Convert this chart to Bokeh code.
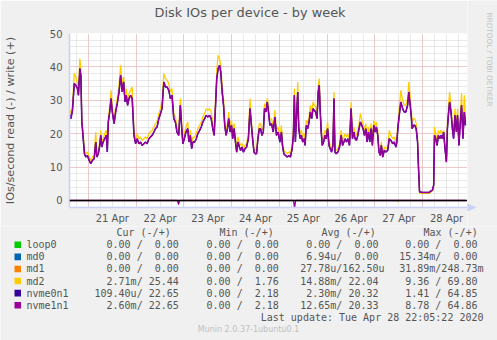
import math
from bokeh.plotting import figure
from bokeh.layouts import column, row
from bokeh.models import Range1d, FixedTicker, Span, Title
from bokeh.core.properties import value
from bokeh.embed import file_html
from bokeh.resources import INLINE

# ---------------- data (hours since 2020-04-20 00:00) ----------------
hours = [14.4, 15.2, 16.0, 16.9, 17.7, 18.5, 19.0, 19.7, 20.2, 20.7, 21.4, 22.0, 22.7, 23.5,
         24.4, 25.2, 26.0, 26.9, 27.7, 28.2, 29.0, 29.7, 30.2, 30.7, 31.4, 32.2, 33.0, 33.5,
         34.0, 34.7, 35.4, 36.0, 36.9, 37.7, 38.5, 39.4, 40.2, 41.0, 41.7, 42.4, 43.0, 43.7,
         44.4, 45.2, 46.0, 46.9, 47.7, 48.5, 49.4, 50.2, 51.0, 51.9, 52.7, 53.5, 54.4, 55.2,
         56.0, 56.9, 57.7, 58.5, 59.4, 60.2, 61.0, 61.9, 62.7, 63.5, 64.4, 65.2, 66.0, 66.9,
         67.7, 68.5, 69.4, 70.2, 71.0, 71.5, 72.2, 73.0, 73.9, 74.5, 75.2, 75.9, 76.5, 77.4,
         78.2, 79.0, 79.9, 80.7, 81.5, 82.4, 83.2, 84.0, 84.9, 85.7, 86.5, 87.2, 87.9, 88.5,
         89.2, 89.9, 90.5, 91.2, 91.9, 92.5, 93.2, 93.9, 94.5, 95.2, 95.9, 96.5, 97.2, 97.9,
         98.5, 99.2, 99.9, 100.5, 101.2, 101.9, 102.7, 103.5, 104.4, 105.2, 105.9, 106.5,
         107.2, 107.9, 108.5, 109.2, 109.9, 110.5, 111.2, 111.9, 112.5, 113.2, 113.9, 114.5,
         115.2, 116.0, 116.9, 117.7, 118.5, 119.4, 120.2, 121.0, 121.5, 122.2, 123.0, 123.9,
         124.7, 125.5, 126.4, 127.0, 127.5, 128.0, 128.7, 129.2, 129.7, 130.4, 131.0, 131.7,
         132.4, 132.9, 133.5, 134.2, 134.9, 135.5, 136.2, 136.9, 137.5, 138.2, 138.9, 139.5,
         140.0, 140.5, 141.0, 141.5, 142.2, 142.9, 143.5, 144.2, 144.9, 145.5, 146.2, 146.9,
         147.4, 147.9, 148.5, 149.4, 150.2, 151.0, 151.7, 152.4, 153.0, 153.7, 154.4, 155.2,
         156.0, 156.7, 157.4, 158.0, 158.7, 159.4, 160.0, 160.7, 161.4, 162.0, 162.7, 163.4,
         164.0, 164.7, 165.4, 166.0, 166.7, 167.4, 168.0, 168.7, 169.4, 170.0, 170.7, 171.2,
         171.9, 172.7, 173.5, 174.4, 175.2, 176.0, 176.9, 177.7, 178.5, 179.0, 179.5, 180.2,
         181.0, 181.9, 182.7, 183.5, 184.4, 185.0, 185.7, 186.2, 186.7, 187.4, 188.0, 188.7,
         189.4, 189.9, 190.4, 191.9, 193.5, 195.2, 196.0, 196.9, 197.5, 197.9, 198.5, 199.2,
         199.9, 200.5, 201.2, 201.9, 202.5, 203.2, 203.9, 204.4, 204.9, 205.5, 206.2, 206.9,
         207.5, 208.2, 208.9, 209.5, 210.2, 210.9, 211.5, 212.2, 212.9, 213.5]

nvme1n1_write = [26.0, 24.5, 27.0, 35.0, 34.5, 33.5, 31.5, 39.5, 37.5, 23.5, 18.5, 14.0, 13.0, 13.5,
                 12.0, 11.0, 12.0, 12.5, 17.5, 13.0, 14.0, 16.5, 19.5, 16.0, 17.5, 18.5, 19.5, 14.5,
                 23.5, 26.5, 30.5, 26.5, 23.0, 26.5, 29.0, 32.5, 37.5, 32.5, 35.5, 29.5, 31.5, 28.5,
                 30.5, 31.5, 30.5, 19.5, 17.0, 18.5, 17.0, 17.5, 16.5, 17.0, 17.5, 17.0, 18.5, 19.0,
                 19.5, 20.5, 21.5, 22.0, 24.5, 26.0, 27.5, 35.5, 34.0, 34.0, 33.0, 30.5, 31.5, 24.5,
                 23.5, 20.5, 19.5, 28.5, 20.5, 17.0, 18.5, 20.5, 21.5, 17.5, 19.5, 15.5, 17.5, 17.5,
                 18.5, 20.0, 21.0, 22.0, 23.5, 24.5, 25.5, 25.0, 25.5, 24.5, 21.5, 19.5, 28.5, 36.5,
                 39.5, 40.5, 38.5, 32.5, 28.5, 22.5, 19.5, 21.5, 24.5, 20.5, 22.5, 18.5, 21.5, 17.5,
                 14.5, 17.5, 16.0, 15.0, 16.0, 14.5, 15.5, 16.0, 18.5, 27.5, 22.5, 18.5,
                 14.5, 14.0, 14.0, 18.5, 21.5, 21.5, 19.5, 20.5, 27.5, 26.5, 29.5, 26.5,
                 22.5, 23.0, 20.5, 25.0, 19.5, 20.5, 17.5, 20.5, 16.5, 14.0, 13.5, 13.0,
                 13.5, 13.0, 15.5, 19.5, 31.5, 17.5, 26.5, 32.5, 21.5, 18.5, 19.5, 17.5,
                 18.5, 16.5, 22.5, 21.5, 23.5, 26.5, 24.5, 27.5, 27.0, 26.5, 24.5, 32.5,
                 34.5, 26.5, 20.5, 16.5, 17.5, 19.5, 18.5, 21.5, 16.5, 15.5, 14.5, 16.5,
                 30.5, 14.5, 14.0, 14.5, 16.0, 19.5, 16.5, 17.5, 18.5, 17.5, 18.5, 16.5,
                 27.5, 18.5, 20.5, 18.5, 18.0, 19.5, 21.5, 23.5, 22.5, 21.5, 19.5, 21.5,
                 17.5, 20.5, 17.5, 21.5, 16.5, 22.5, 20.5, 22.0, 19.5, 14.5, 13.5, 16.5,
                 13.0, 15.0, 14.5, 15.0, 18.5, 18.0, 17.0, 17.5, 16.0, 17.5, 21.5, 25.5,
                 29.5, 27.5, 26.5, 26.5, 28.5, 32.5, 28.5, 25.5, 21.5, 22.5, 22.5, 21.5,
                 17.5, 9.5, 2.6, 2.4, 2.4, 2.4, 2.8, 3.1, 4.6, 19.5, 18.5, 16.5,
                 19.5, 18.5, 19.5, 18.5, 20.5, 15.5, 11.5, 21.5, 25.5, 29.5, 26.5, 21.5,
                 18.5, 25.5, 20.5, 25.5, 16.5, 23.5, 28.5, 18.5, 26.5, 22.5]

md2_write = [27.5, 26.0, 28.5, 38.0, 37.0, 35.0, 33.0, 42.5, 39.5, 25.0, 20.0, 15.0, 14.0, 14.5,
             13.0, 12.0, 13.0, 13.5, 20.5, 14.0, 15.0, 17.5, 21.0, 17.0, 18.5, 20.0, 21.0, 15.5,
             25.0, 28.0, 33.0, 28.0, 24.5, 28.0, 30.5, 34.5, 40.5, 34.0, 37.0, 31.0, 33.5, 30.0,
             32.0, 33.0, 34.0, 21.0, 18.5, 20.0, 18.5, 19.0, 18.0, 18.5, 19.0, 18.5, 20.0, 20.5,
             21.0, 22.0, 23.0, 23.5, 26.0, 27.5, 29.5, 38.0, 36.5, 36.0, 35.0, 32.5, 33.5, 26.0,
             25.0, 22.0, 21.0, 30.5, 22.0, 18.5, 20.0, 22.0, 23.5, 19.0, 21.0, 17.0, 19.0, 19.0,
             20.0, 21.5, 22.5, 23.5, 25.0, 26.0, 27.5, 27.0, 27.5, 26.5, 23.0, 21.0, 30.5, 39.0,
             43.5, 42.5, 40.5, 34.5, 30.5, 24.0, 21.0, 23.0, 26.5, 22.0, 24.0, 20.0, 23.0, 19.0,
             16.0, 19.0, 17.5, 16.5, 17.0, 15.5, 16.5, 17.0, 20.0, 30.5, 24.0, 20.0,
             15.5, 15.0, 15.0, 20.0, 23.0, 23.0, 21.0, 22.0, 29.0, 28.0, 30.5, 28.0,
             24.0, 24.5, 22.0, 27.0, 21.0, 22.0, 19.0, 22.5, 18.0, 15.0, 14.5, 14.0,
             14.5, 14.0, 16.5, 21.0, 33.5, 19.0, 28.0, 35.5, 23.0, 20.0, 21.0, 19.0,
             20.0, 18.0, 24.0, 23.0, 25.0, 28.5, 26.0, 29.5, 28.5, 28.0, 26.0, 34.5,
             36.5, 28.0, 22.0, 18.0, 19.0, 21.0, 20.0, 23.5, 18.0, 16.5, 15.5, 17.5,
             32.5, 15.5, 15.0, 15.5, 17.0, 21.0, 18.0, 19.0, 20.0, 19.0, 20.0, 18.0,
             29.5, 20.0, 22.0, 20.0, 19.5, 21.0, 23.0, 26.0, 24.0, 23.0, 21.0, 23.0,
             19.0, 22.0, 19.0, 23.0, 18.0, 24.0, 22.0, 23.5, 21.0, 15.5, 14.5, 17.5,
             14.0, 16.0, 15.5, 16.0, 21.0, 19.5, 18.5, 19.0, 17.5, 19.0, 23.0, 27.5,
             33.0, 30.0, 28.5, 28.5, 30.5, 35.5, 31.0, 27.5, 23.5, 24.5, 24.5, 23.0,
             18.5, 9.5, 2.2, 2.1, 2.1, 2.1, 2.5, 2.9, 4.5, 22.0, 20.0, 18.0,
             21.0, 20.0, 21.0, 20.0, 21.0, 16.5, 12.0, 23.0, 27.5, 32.5, 28.5, 23.0,
             20.0, 27.5, 22.0, 27.5, 18.0, 25.5, 32.0, 20.0, 31.5, 24.5]

# the two mirrored NVMe disks coincide at this resolution
nvme0n1_write = list(nvme1n1_write)

# read side (drawn below zero)
read_hours = [14.4, 68.8, 69.3, 69.8, 127.1, 127.6, 128.1, 213.5]
nvme1n1_read = [0.0, 0.0, 1.2, 0.0, 0.0, 2.4, 0.0, 0.0]
md2_read_hours = [14.4, 179.2, 179.5, 179.8, 213.5]
md2_read = [0.0, 0.0, 0.5, 0.0, 0.0]

day_midnights = [24, 48, 72, 96, 120, 144, 168, 192]
day_labels = ["21 Apr", "22 Apr", "23 Apr", "24 Apr", "25 Apr", "26 Apr", "27 Apr", "28 Apr"]
y_ticks = [0, 10, 20, 30, 40, 50]

names = ["loop0", "md0", "md1", "md2", "nvme0n1", "nvme1n1"]
colors = ["#00CC00", "#0066B3", "#FF8000", "#FFCC00", "#330099", "#990099"]
cur_col = ["0.00 /  0.00 ", "0.00 /  0.00 ", "0.00 /  0.00 ", "2.71m/ 25.44 ", "109.40u/ 22.65 ", "2.60m/ 22.65 "]
min_col = ["0.00 /  0.00 ", "0.00 /  0.00 ", "0.00 /  0.00 ", "0.00 /  1.76 ", "0.00 /  2.18 ", "0.00 /  2.18 "]
avg_col = ["0.00 /  0.00 ", "6.94u/  0.00 ", "27.78u/162.50u", "14.88m/ 22.04 ", "2.30m/ 20.32 ", "12.65m/ 20.33 "]
max_col = ["0.00 /  0.00 ", "15.34m/  0.00 ", "31.89m/248.73m", "9.36 / 69.80 ", "1.41 / 64.85 ", "8.78 / 64.86 "]
headers = ["Cur (-/+)", "Min (-/+)", "Avg (-/+)", "Max (-/+)"]
title_text = "Disk IOs per device - by week"
side_text = "RRDTOOL / TOBI OETIKER"
last_update = "Last update: Tue Apr 28 22:05:22 2020"
footer = "Munin 2.0.37-1ubuntu0.1"

# ---------------- layout ----------------
W = 497
W_MAIN, W_SIDE = 467, 30
H_TOP, H_BOT = 226, 114
FL, FT, FB = 67, 33, 207          # frame edges (canvas px) of the chart
X0, X1 = 14.5, 214.5
Y0, Y1 = -2.1, 50.0

TXT = "#555555"
AX = "#c9d1f7"
BG = "#F0F0F0"
SANS = "DejaVu Sans"
MONO = "DejaVu Sans Mono"

p = figure(width=W_MAIN, height=H_TOP, output_backend="svg", toolbar_location=None,
           x_range=Range1d(X0, X1), y_range=Range1d(Y0, Y1),
           min_border_left=FL, min_border_right=0, min_border_top=FT,
           min_border_bottom=H_TOP - FB)
p.frame_align = False
p.border_fill_color = BG
p.background_fill_color = "#FFFFFF"
p.outline_line_color = None

# real title outermost, a thin spacer title between it and the frame
p.title.text = title_text
p.title.align = "left"
p.title.offset = 85
p.title.standoff = 0
p.title.text_font = SANS
p.title.text_font_size = "12.9px"
p.title.text_font_style = "normal"
p.title.text_color = TXT
p.add_layout(Title(text=" ", text_font_size="1px", standoff=11), "above")

# grids
p.xgrid.ticker = FixedTicker(ticks=day_midnights,
                             minor_ticks=[h for h in range(18, 214, 6)])
p.ygrid.ticker = FixedTicker(ticks=y_ticks, minor_ticks=list(range(-2, 51, 2)))
for g in (p.xgrid, p.ygrid):
    g.grid_line_color = "#eeaaaa"
    g.grid_line_dash = "1 1"
    g.minor_grid_line_color = "#d2d2d2"
    g.minor_grid_line_dash = "1 1"

# x axis: day labels centred at noon
noons = [m + 12 for m in day_midnights]
p.xaxis.ticker = FixedTicker(ticks=noons, minor_ticks=[])
p.xaxis.major_label_overrides = {n: lab for n, lab in zip(noons, day_labels)}
p.yaxis.ticker = FixedTicker(ticks=y_ticks, minor_ticks=[])
for ax in (p.xaxis, p.yaxis):
    ax.axis_line_color = AX
    ax.axis_line_width = 1.5
    ax.major_tick_line_color = None
    ax.minor_tick_line_color = None
    ax.major_tick_out = 0
    ax.major_tick_in = 0
    ax.major_label_text_font = SANS
    ax.major_label_text_font_size = "10px"
    ax.major_label_text_color = TXT
p.xaxis.major_label_standoff = 5
p.yaxis.major_label_standoff = 7
p.yaxis.axis_label = "IOs/second read (-) / write (+)"
p.yaxis.axis_label_text_font = SANS
p.yaxis.axis_label_text_font_size = "11.2px"
p.yaxis.axis_label_text_font_style = "normal"
p.yaxis.axis_label_text_color = TXT
p.yaxis.axis_label_standoff = 30

# series
p.line(hours, md2_write, line_color=colors[3], line_width=1.3)
p.line(md2_read_hours, [-v for v in md2_read], line_color=colors[3], line_width=1.2)
p.line(hours, nvme0n1_write, line_color=colors[4], line_width=1.5)
p.line(hours, nvme1n1_write, line_color=colors[5], line_width=1.2)
p.line(read_hours, [-v for v in nvme1n1_read], line_color=colors[5], line_width=1.3)
p.add_layout(Span(location=0, dimension="width", line_color="black", line_width=1.5))

# ---------------- right strip: credit text and x-axis arrow head (pixel coords, y down) ----------------
r = figure(width=W_SIDE, height=H_TOP, output_backend="svg", toolbar_location=None,
           x_range=Range1d(W_MAIN, W), y_range=Range1d(H_TOP, 0),
           x_axis_type=None, y_axis_type=None, min_border=0)
r.frame_align = False
r.grid.visible = False
r.outline_line_color = None
r.background_fill_color = BG
r.border_fill_color = BG
r.text(x=[488.5], y=[59], text=[side_text], text_font=value(SANS),
       text_font_size=value("7.3px"), text_color="#c4c4c4", text_align="center",
       text_baseline="middle", angle=-math.pi / 2)
r.patch(x=[467, 475, 467], y=[203.5, 207, 210.5], fill_color=AX, line_color=AX)

# ---------------- legend table (pixel coordinates, y downward) ----------------
q = figure(width=W, height=H_BOT, output_backend="svg", toolbar_location=None,
           x_range=Range1d(0, W), y_range=Range1d(H_TOP + H_BOT, H_TOP),
           x_axis_type=None, y_axis_type=None, min_border=0)
q.frame_align = False
q.grid.visible = False
q.outline_line_color = None
q.background_fill_color = BG
q.border_fill_color = BG

header_x = [116, 219, 321, 423]
q.text(x=header_x, y=[232] * 4, text=headers, text_font=value(MONO),
       text_font_size=value("10px"), text_color=TXT, text_align="left",
       text_baseline="middle")

col_ends = [184.3, 284.3, 384.0, 483.0]
row_y0, row_dy = 244.3, 12.08
row_y = [row_y0 + i * row_dy for i in range(len(names))]
q.quad(left=[14] * 6, right=[20.5] * 6, top=[y - 3.3 for y in row_y],
       bottom=[y + 3.3 for y in row_y], fill_color=colors, line_color=None)
q.text(x=[26] * 6, y=row_y, text=names, text_font=value(MONO),
       text_font_size=value("10px"), text_color=TXT, text_align="left",
       text_baseline="middle")
for ce, col in zip(col_ends, (cur_col, min_col, avg_col, max_col)):
    q.text(x=[ce] * 6, y=row_y, text=[s.replace(" ", "\u00a0") for s in col],
           text_font=value(MONO), text_font_size=value("10px"), text_color=TXT,
           text_align="right", text_baseline="middle")
q.text(x=[483], y=[316.7], text=[last_update], text_font=value(MONO),
       text_font_size=value("10px"), text_color=TXT, text_align="right",
       text_baseline="middle")
q.text(x=[248], y=[329.3], text=[footer], text_font=value(SANS),
       text_font_size=value("8px"), text_color="#c0c0c0", text_align="center",
       text_baseline="middle")

layout = column(row(p, r, spacing=0), q, spacing=0)
open("out.html", "w").write(file_html(layout, INLINE))
